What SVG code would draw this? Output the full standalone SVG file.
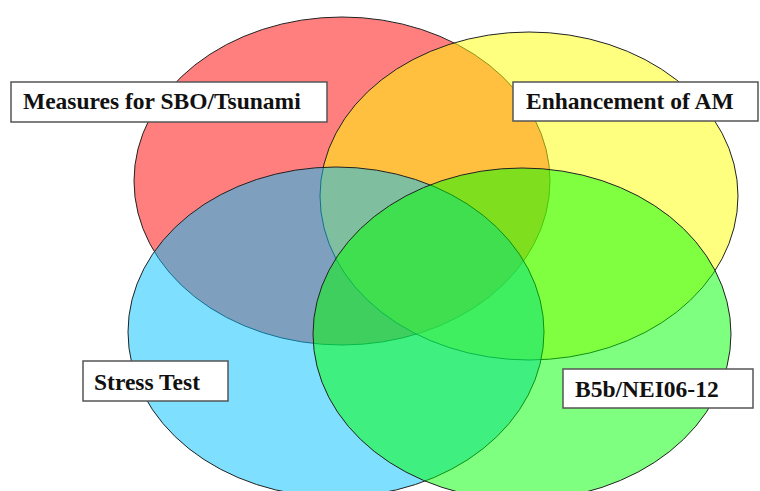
<svg xmlns="http://www.w3.org/2000/svg" width="760" height="491" viewBox="0 0 760 491">
<style>
.set{stroke:#222;stroke-width:1;fill-opacity:0.5}
.box{fill:#fff;stroke:#555;stroke-width:1.5}
.lbl{font-family:'Liberation Serif','Times New Roman',Times,'DejaVu Serif',serif;font-weight:bold;font-size:23.5px;fill:#111}
</style>
<rect width="760" height="491" fill="#fff"/>
<g id="sets">
<g id="set-sbo"><ellipse class="set" cx="342" cy="181" rx="208" ry="164" fill="#ff0000"/></g>
<g id="set-am"><ellipse class="set" cx="529" cy="196" rx="209" ry="164" fill="#ffff00"/></g>
<g id="set-stress"><ellipse class="set" cx="336" cy="332" rx="208" ry="165" fill="#00c0ff"/></g>
<g id="set-b5b"><ellipse class="set" cx="522" cy="334" rx="209" ry="166" fill="#00ff00"/></g>
</g>
<g id="connectors"></g>
<g id="label-sbo"><rect class="box" x="11" y="82" width="316" height="40"/><text class="lbl" x="23" y="109" font-family="Liberation Serif, DejaVu Serif, serif">Measures for SBO/Tsunami</text></g>
<g id="label-am"><rect class="box" x="513" y="82" width="245" height="39"/><text class="lbl" x="526" y="109">Enhancement of AM</text></g>
<g id="label-stress"><rect class="box" x="83" y="361" width="145" height="40"/><text class="lbl" x="94" y="390">Stress Test</text></g>
<g id="label-b5b"><rect class="box" x="563" y="369" width="190" height="39"/><text class="lbl" x="575" y="397">B5b/NEI06-12</text></g>
</svg>
